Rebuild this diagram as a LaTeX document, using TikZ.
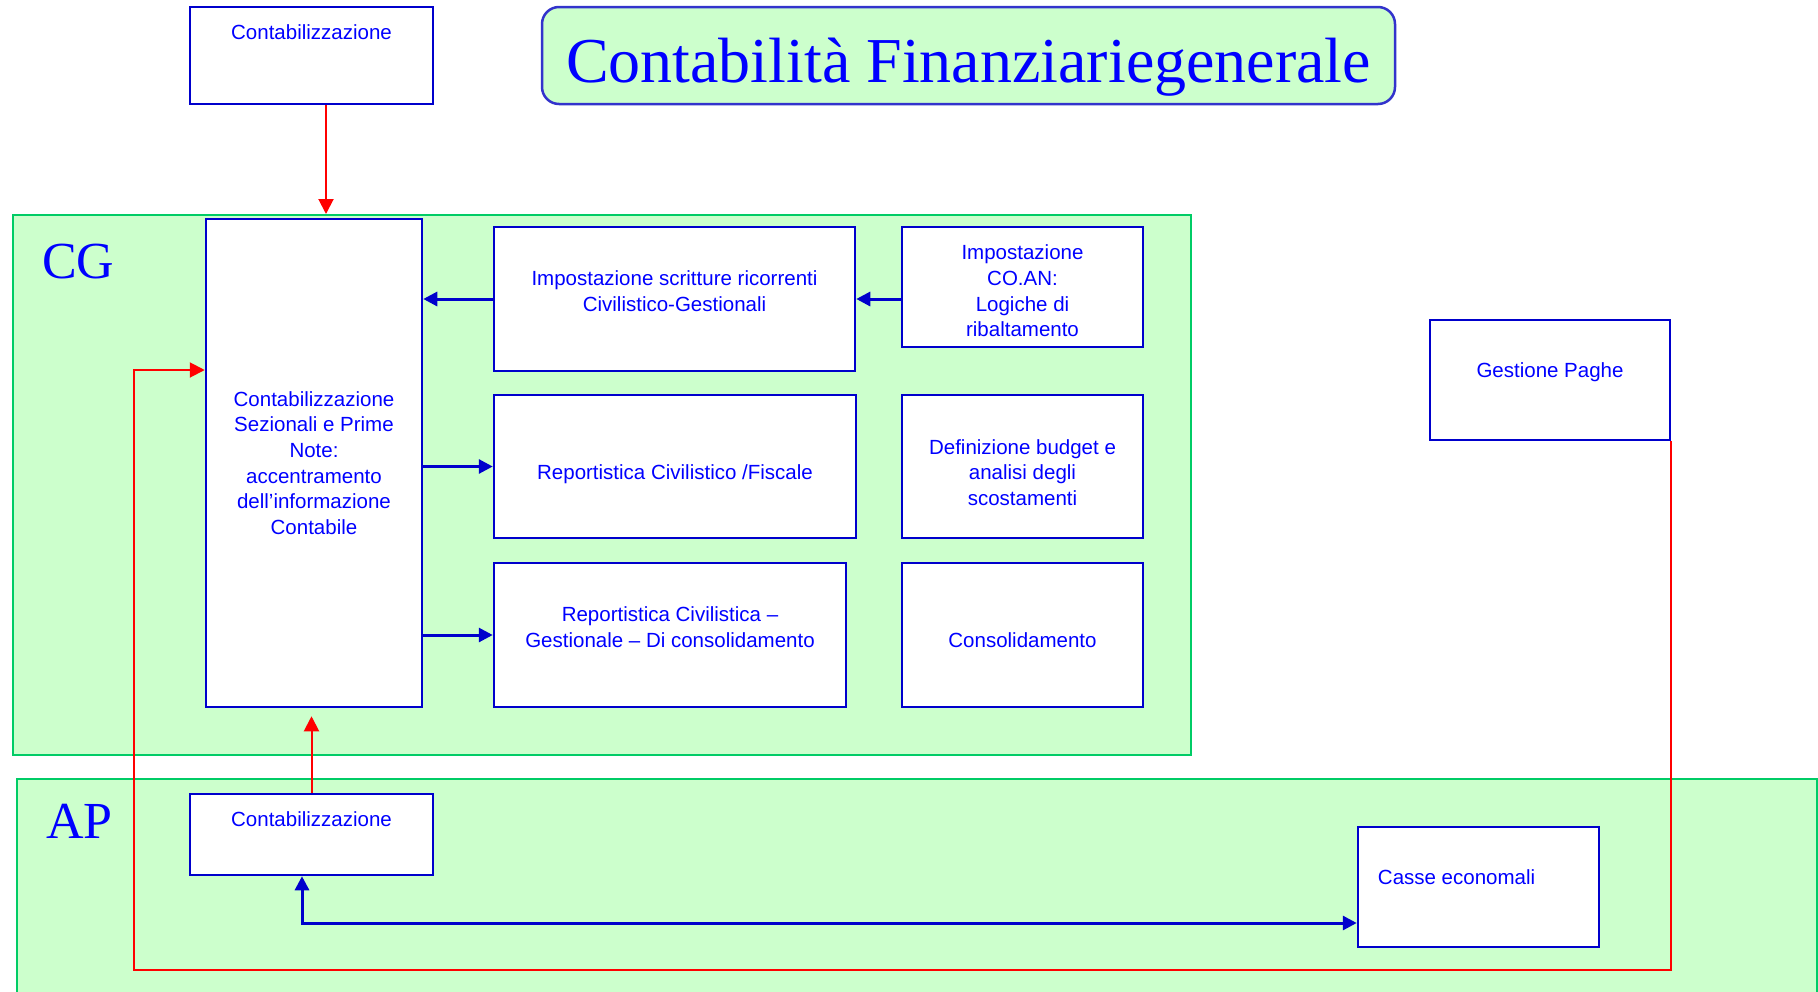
\documentclass[tikz,border=0pt]{standalone}
\usepackage{fontspec}
\setmainfont{Liberation Serif}
\setsansfont{Liberation Sans}
\usetikzlibrary{arrows.meta}
\definecolor{panelfill}{HTML}{CCFFCC}
\definecolor{panelline}{HTML}{00CC66}
\definecolor{boxline}{HTML}{0000CC}
\definecolor{boxtxt}{HTML}{0000FF}
\definecolor{titleline}{HTML}{3333CC}
\begin{document}
\begin{tikzpicture}[x=1pt, y=-1pt,
        panel/.style={draw=panelline, fill=panelfill, line width=2pt, inner sep=0pt},
        box/.style={draw=boxline, fill=white, line width=2.5pt, text=boxtxt, align=center, inner sep=0pt, font=\sffamily\fontsize{20.5}{25.6}\selectfont},
        boxtext/.style={text=boxtxt, align=center, inner sep=0pt, font=\sffamily\fontsize{20.5}{25.6}\selectfont},
        areaname/.style={text=boxtxt, inner sep=0pt, anchor=base west, font=\fontsize{52}{56}\selectfont},
        bluearrow/.style={draw=boxline, line width=3pt, -{Triangle[length=14pt,width=14pt]}},
        redarrow/.style={draw=red, line width=2pt, -{Triangle[length=15pt,width=15pt]}}]
        \clip (0,0) rectangle (1818,991);

        % Areas
        \node[panel, minimum width=1178pt, minimum height=540pt] (cg) at (602,485) {};
        \node[panel, minimum width=1800pt, minimum height=224pt] (ap) at (917,891) {};
        \node[areaname] (cgname) at (42,278) {CG};
        \node[areaname] (apname) at (46,838) {AP};

        % Title
        \node[draw=titleline, fill=panelfill, line width=2.5pt, rounded corners=17pt, minimum width=853pt, minimum height=97pt, text=boxtxt, text height=67pt, text depth=14pt, font=\fontsize{64}{70}\selectfont] (title) at (968.5,55.5) {Contabilità Finanziariegenerale};

        % Boxes
        \node[box, minimum width=243pt, minimum height=97pt, label={[boxtext, anchor=base, yshift=-33.5pt]north:Contabilizzazione}] (topc) at (311.5,55.5) {};
        \node[box, minimum width=216pt, minimum height=488pt] (mainc) at (314,463) {Contabilizzazione\\Sezionali e Prime\\Note:\\accentramento\\dell’informazione\\Contabile};
        \node[box, minimum width=361pt, minimum height=144pt, label={[boxtext, yshift=8pt]center:{Impostazione scritture ricorrenti\\Civilistico-Gestionali}}] (scritture) at (674.5,299) {};
        \node[box, minimum width=241pt, minimum height=120pt, label={[boxtext, yshift=-4pt]center:{Impostazione\\CO.AN:\\Logiche di\\ribaltamento}}] (coan) at (1022.5,287) {};
        \node[box, minimum width=362pt, minimum height=143pt, label={[boxtext, yshift=-8pt]center:{Reportistica Civilistico /Fiscale}}] (fiscale) at (675,466.5) {};
        \node[box, minimum width=241pt, minimum height=143pt, label={[boxtext, yshift=-6pt]center:{Definizione budget e\\analisi degli\\scostamenti}}] (budget) at (1022.5,466.5) {};
        \node[box, minimum width=352pt, minimum height=144pt, label={[boxtext, yshift=8pt]center:{Reportistica Civilistica –\\Gestionale – Di consolidamento}}] (gestionale) at (670,635) {};
        \node[box, minimum width=241pt, minimum height=144pt, label={[boxtext, yshift=-5pt]center:{Consolidamento}}] (consol) at (1022.5,635) {};
        \node[box, minimum width=240pt, minimum height=120pt, label={[boxtext, anchor=base, yshift=-58.5pt]north:Gestione Paghe}] (paghe) at (1550,380) {};
        \node[box, minimum width=243pt, minimum height=81pt, label={[boxtext, anchor=base, yshift=-33.5pt]north:Contabilizzazione}] (botc) at (311.5,834.5) {};
        \node[box, minimum width=241pt, minimum height=120pt, label={[boxtext, anchor=base west, xshift=21pt, yshift=2.5pt]west:Casse economali}] (casse) at (1478.5,887) {};

        % Blue connectors
        \draw[bluearrow] (scritture.west) -- (scritture.west -| mainc.east);
        \draw[bluearrow] (coan.west |- scritture.east) -- (scritture.east);
        \foreach \b in {fiscale, gestionale} {
            \draw[bluearrow] (mainc.east |- \b.west) -- (\b.west);
        }
        \draw[bluearrow, {Triangle[length=14pt,width=14pt]}-{Triangle[length=14pt,width=14pt]}] ([xshift=-9.5pt]botc.south) |- ([yshift=-36pt]casse.west);

        % Red connectors
        \coordinate (redcorner) at (134,970);
        \draw[redarrow] ([xshift=14.5pt]topc.south) -- ([xshift=14.5pt]topc.south |- cg.north);
        \draw[redarrow] (botc.north) -- ([yshift=-8pt]botc.north |- mainc.south);
        \draw[redarrow] (paghe.south east) |- (redcorner) |- ([yshift=93pt]mainc.west);
    \end{tikzpicture}
\end{document}
